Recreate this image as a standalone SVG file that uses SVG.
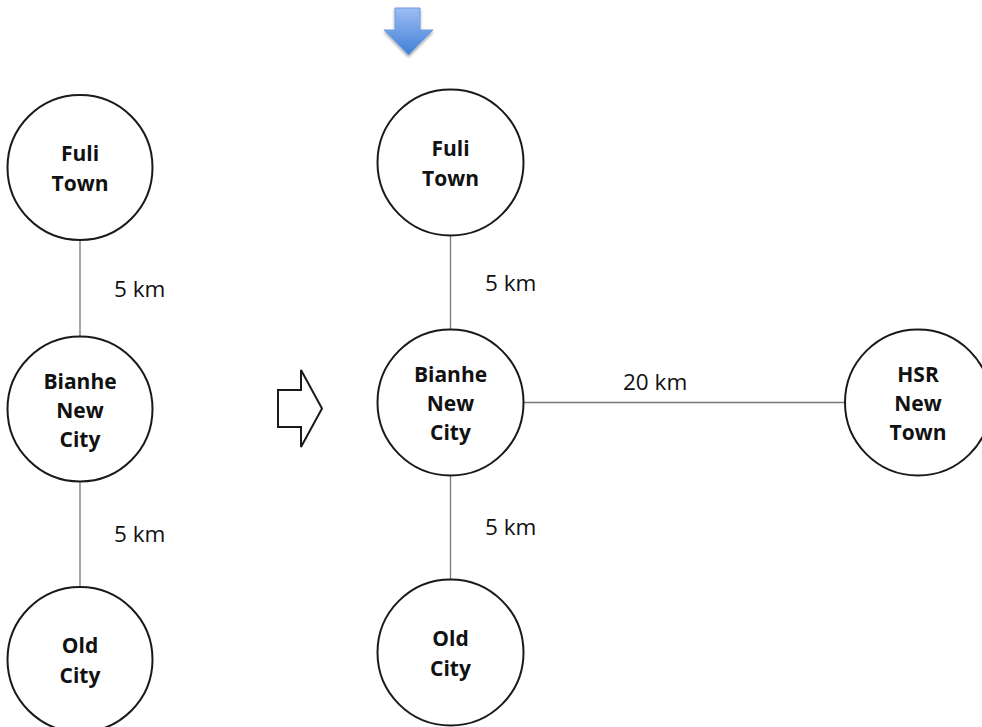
<svg xmlns="http://www.w3.org/2000/svg" width="982" height="727" viewBox="0 0 982 727">
<style>
.node{fill:#fff;stroke:#1a1a1a;stroke-width:2}
.nt{font-family:"Open Sans","Liberation Sans",sans-serif;font-weight:bold;font-size:21px;fill:#111;text-anchor:middle}
.lbl{font-family:"Open Sans","Liberation Sans",sans-serif;font-size:22.5px;fill:#111}
.edge{stroke:#777;stroke-width:1.3;fill:none}
</style>
<defs>
<linearGradient id="blue" x1="0" y1="0" x2="0" y2="1">
<stop offset="0" stop-color="#9dbdf3"/>
<stop offset="1" stop-color="#3f7fd6"/>
</linearGradient>
<filter id="sh" x="-30%" y="-30%" width="160%" height="160%">
<feGaussianBlur in="SourceAlpha" stdDeviation="1.5"/>
<feOffset dx="0" dy="2" result="b"/>
<feComponentTransfer><feFuncA type="linear" slope="0.35"/></feComponentTransfer>
<feMerge><feMergeNode/><feMergeNode in="SourceGraphic"/></feMerge>
</filter>
</defs>
<rect width="982" height="727" fill="#fff"/>
<g id="connectors">
<line class="edge" x1="80" y1="239" x2="80" y2="337"/>
<line class="edge" x1="80" y1="481" x2="80" y2="587"/>
<line class="edge" x1="450.5" y1="235" x2="450.5" y2="330"/>
<line class="edge" x1="450.5" y1="475" x2="450.5" y2="580"/>
<line class="edge" x1="523.5" y1="402.5" x2="845" y2="402.5"/>
<text class="lbl" x="114" y="297">5 km</text>
<text class="lbl" x="114" y="542">5 km</text>
<text class="lbl" x="485" y="291">5 km</text>
<text class="lbl" x="485" y="535">5 km</text>
<text class="lbl" x="623" y="390">20 km</text>
</g>
<g id="arrow-down">
<path d="M395,8 H420 V30 H433 L408.5,55 L384,30 H395 Z" fill="url(#blue)" stroke="#6f9be0" stroke-width="1" filter="url(#sh)"/>
</g>
<g id="arrow-right">
<path d="M278,390 H301 V370 L322,408.5 L301,447 V427 H278 Z" fill="#fff" stroke="#1a1a1a" stroke-width="2" stroke-linejoin="miter"/>
</g>
<g id="left-fuli">
<circle class="node" cx="80" cy="167.5" r="72.5"/>
<text class="nt" x="80" y="161">Fuli</text>
<text class="nt" x="80" y="191">Town</text>
</g>
<g id="left-bianhe">
<circle class="node" cx="80" cy="409" r="72.5"/>
<text class="nt" x="80" y="389">Bianhe</text>
<text class="nt" x="80" y="418">New</text>
<text class="nt" x="80" y="447">City</text>
</g>
<g id="left-old">
<circle class="node" cx="80" cy="659.5" r="72.5"/>
<text class="nt" x="80" y="653">Old</text>
<text class="nt" x="80" y="683">City</text>
</g>
<g id="right-fuli">
<circle class="node" cx="450.5" cy="162.5" r="73"/>
<text class="nt" x="450.5" y="156">Fuli</text>
<text class="nt" x="450.5" y="186">Town</text>
</g>
<g id="right-bianhe">
<circle class="node" cx="450.5" cy="402.5" r="73"/>
<text class="nt" x="450.5" y="382">Bianhe</text>
<text class="nt" x="450.5" y="411">New</text>
<text class="nt" x="450.5" y="440">City</text>
</g>
<g id="right-old">
<circle class="node" cx="450.5" cy="652.5" r="73"/>
<text class="nt" x="450.5" y="646">Old</text>
<text class="nt" x="450.5" y="676">City</text>
</g>
<g id="hsr">
<circle class="node" cx="918" cy="402.5" r="73"/>
<text class="nt" x="918" y="382">HSR</text>
<text class="nt" x="918" y="411">New</text>
<text class="nt" x="918" y="440">Town</text>
</g>
</svg>
